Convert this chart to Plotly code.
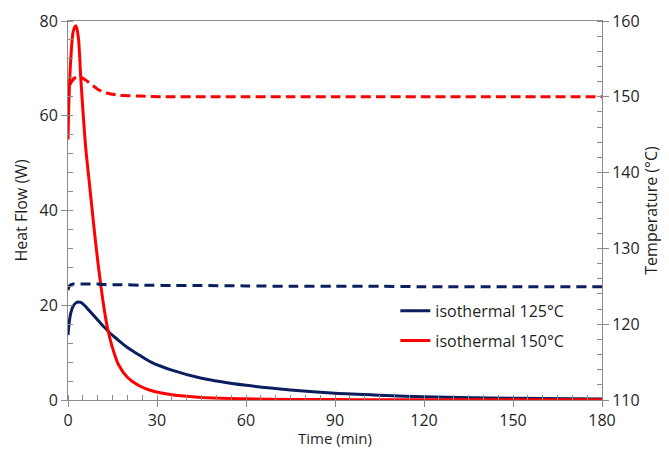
import plotly.graph_objects as go

# ---- data ----
time_min = [0, 0.3, 0.9, 1.8, 2.7, 3.5, 4.3, 5.2, 6, 7, 8, 9, 10, 11, 12, 13, 14,
            15.5, 17, 20, 24, 28, 35, 45, 60, 75, 90, 105, 120, 150, 180]

heat_flow_125 = [13.7, 15.8, 18.3, 19.9, 20.5, 20.7, 20.6, 20.2, 19.7, 19.0, 18.3, 17.6,
                 16.9, 16.2, 15.5, 14.9, 14.2, 13.4, 12.6, 11.1, 9.5, 8.0, 6.3, 4.6,
                 3.1, 2.1, 1.4, 1.0, 0.7, 0.35, 0.2]

heat_flow_150 = [55, 63, 71.6, 77.9, 79, 76.5, 68, 59.6, 53, 47, 41, 35, 29.5, 24.5,
                 20, 16.2, 13.3, 10, 7.5, 4.8, 3.0, 2.0, 1.1, 0.55, 0.25, 0.12, 0.08,
                 0.06, 0.05, 0.04, 0.03]

temp_125 = [124.5, 124.9, 125.2, 125.3, 125.3, 125.3, 125.3, 125.3, 125.3, 125.3, 125.3,
            125.3, 125.3, 125.25, 125.25, 125.2, 125.2, 125.2, 125.2, 125.2, 125.15,
            125.15, 125.1, 125.1, 125.05, 125.0, 125.0, 125.0, 124.95, 124.95, 124.95]

temp_150 = [149.6, 150.9, 151.8, 152.3, 152.6, 152.7, 152.6, 152.4, 152.2, 151.9, 151.6,
            151.3, 151.0, 150.8, 150.6, 150.5, 150.4, 150.3, 150.2, 150.15, 150.1,
            150.05, 150.0, 150.0, 150.0, 150.0, 150.0, 150.0, 150.0, 150.0, 150.0]

series_names = ["isothermal 125°C", "isothermal 150°C"]
x_ticks = [0, 30, 60, 90, 120, 150, 180]
x_title = "Time (min)"

BLUE = "#0b1f5e"
RED = "#ff0000"
AXIS = "#8c8c8c"
TXT = "#1f1f1f"
FONT = "Open Sans"

fig = go.Figure()

fig.add_trace(go.Scatter(x=time_min, y=temp_125, yaxis="y2", mode="lines",
                         line=dict(color=BLUE, width=3, dash="10px,6px", shape="spline", smoothing=0.8),
                         showlegend=False, hoverinfo="skip"))
fig.add_trace(go.Scatter(x=time_min, y=temp_150, yaxis="y2", mode="lines",
                         line=dict(color=RED, width=3, dash="10px,5px", shape="spline", smoothing=0.8),
                         showlegend=False, hoverinfo="skip"))
fig.add_trace(go.Scatter(x=time_min, y=heat_flow_125, mode="lines", name=series_names[0],
                         legendgroup="a",
                         line=dict(color=BLUE, width=3, shape="spline", smoothing=0.8)))
fig.add_trace(go.Scatter(x=time_min, y=heat_flow_150, mode="lines", name=series_names[1],
                         legendgroup="b",
                         line=dict(color=RED, width=3, shape="spline", smoothing=0.8)))

# the page body has an 8px margin, so the figure is sized to fill the rest of the window
fig.update_layout(
    width=661, height=441,
    margin=dict(l=60, r=67, t=13, b=49),
    paper_bgcolor="white", plot_bgcolor="white",
    font=dict(family=FONT, size=16, color=TXT),
    xaxis=dict(
        range=[0, 180], tickvals=x_ticks, ticks="outside", ticklen=6, tickcolor=AXIS,
        showline=True, linecolor=AXIS, linewidth=1, mirror=True, showgrid=False, zeroline=False,
        tickfont=dict(size=16, color=TXT), automargin=False,
        minor=dict(dtick=5, ticks="inside", ticklen=5, tickcolor=AXIS, showgrid=False),
    ),
    yaxis=dict(
        range=[0, 80], dtick=20, ticks="outside", ticklen=6, tickcolor=AXIS,
        showline=True, linecolor=AXIS, linewidth=1, showgrid=False, zeroline=False,
        tickfont=dict(size=16, color=TXT), automargin=False,
        minor=dict(dtick=4, ticks="inside", ticklen=5, tickcolor=AXIS, showgrid=False),
        title=dict(text="Heat Flow (W)", font=dict(size=16, color=TXT), standoff=7),
    ),
    yaxis2=dict(
        range=[110, 160], dtick=10, overlaying="y", side="right", ticks="outside", ticklen=6,
        tickcolor=AXIS, showline=True, linecolor=AXIS, linewidth=1, showgrid=False, zeroline=False,
        tickfont=dict(size=16, color=TXT), automargin=False,
        minor=dict(dtick=2, ticks="inside", ticklen=5, tickcolor=AXIS, showgrid=False),
        title=dict(text="Temperature (°C)", font=dict(size=16, color=TXT), standoff=5),
    ),
    legend=dict(
        x=0.613, y=0.28, xanchor="left", yanchor="top", bgcolor="rgba(0,0,0,0)",
        traceorder="grouped", tracegroupgap=6, font=dict(size=16, color=TXT),
        itemwidth=30,
    ),
    annotations=[dict(text=x_title, xref="paper", yref="paper", x=0.5, y=0,
                      xanchor="center", yanchor="middle", yshift=-38, showarrow=False,
                      font=dict(size=15, color=TXT))],
    showlegend=True,
)

fig.write_html("out.html")
